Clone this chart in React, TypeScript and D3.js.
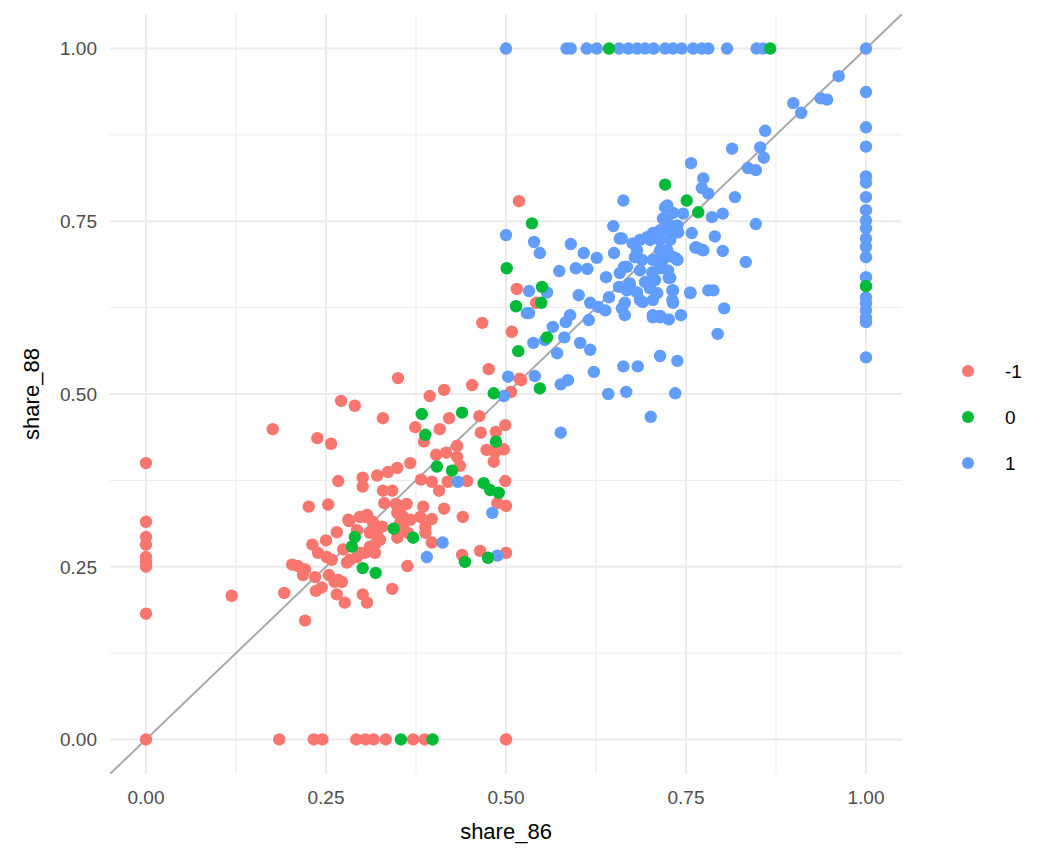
import React from "react";
import * as d3 from "d3";

type Pt = [number, number];

const groupLabels = ["-1", "0", "1"];
const groupColors = ["#F8766D", "#00BA38", "#619CFF"];

const redPts: Pt[] = [
  [0, 0.40], [0, 0.315], [0, 0.293], [0, 0.282], [0, 0.264], [0, 0.257], [0, 0.25], [0, 0.182], [0, 0],
  [0.185, 0], [0.233, 0], [0.245, 0], [0.292, 0], [0.305, 0], [0.316, 0], [0.333, 0], [0.371, 0], [0.387, 0], [0.5, 0],
  [0.271, 0.49], [0.29, 0.483], [0.176, 0.449], [0.238, 0.436], [0.257, 0.428], [0.267, 0.374], [0.301, 0.379], [0.301, 0.366],
  [0.226, 0.337], [0.253, 0.34], [0.282, 0.316], [0.304, 0.322], [0.265, 0.30], [0.231, 0.282], [0.25, 0.288], [0.239, 0.27],
  [0.251, 0.264], [0.258, 0.26], [0.274, 0.275], [0.283, 0.26], [0.279, 0.256], [0.203, 0.253], [0.211, 0.251], [0.221, 0.246],
  [0.218, 0.238], [0.235, 0.235], [0.254, 0.238], [0.262, 0.228], [0.272, 0.228], [0.119, 0.208], [0.192, 0.212], [0.236, 0.215],
  [0.265, 0.21], [0.276, 0.198], [0.301, 0.21], [0.307, 0.198], [0.221, 0.172],
  [0.467, 0.603], [0.508, 0.59], [0.35, 0.523], [0.476, 0.536], [0.519, 0.522], [0.453, 0.513], [0.507, 0.503], [0.414, 0.506],
  [0.394, 0.497], [0.329, 0.465], [0.421, 0.465], [0.463, 0.468], [0.374, 0.452], [0.408, 0.449], [0.465, 0.444], [0.486, 0.445],
  [0.499, 0.455], [0.386, 0.431], [0.432, 0.425], [0.473, 0.419], [0.485, 0.416], [0.497, 0.42], [0.403, 0.412], [0.417, 0.415],
  [0.432, 0.409], [0.436, 0.396], [0.483, 0.402], [0.367, 0.40], [0.349, 0.393], [0.336, 0.387], [0.321, 0.382], [0.382, 0.376],
  [0.397, 0.373], [0.419, 0.373], [0.446, 0.374], [0.499, 0.374], [0.407, 0.36], [0.329, 0.36], [0.342, 0.36], [0.331, 0.342],
  [0.347, 0.341], [0.362, 0.341], [0.385, 0.337], [0.414, 0.334], [0.488, 0.342], [0.5, 0.338], [0.349, 0.328], [0.357, 0.322],
  [0.381, 0.322], [0.397, 0.319], [0.44, 0.322], [0.353, 0.314], [0.388, 0.308], [0.315, 0.315], [0.328, 0.308], [0.357, 0.303],
  [0.318, 0.299], [0.325, 0.289], [0.349, 0.292], [0.388, 0.299], [0.311, 0.279], [0.318, 0.27], [0.304, 0.27], [0.293, 0.264],
  [0.397, 0.285], [0.439, 0.267], [0.464, 0.273], [0.5, 0.27], [0.363, 0.251], [0.342, 0.218],
  [0.518, 0.779], [0.515, 0.652], [0.542, 0.632], [0.521, 0.52],
  [0.281, 0.318], [0.297, 0.322], [0.307, 0.325], [0.293, 0.303], [0.311, 0.299], [0.322, 0.293], [0.318, 0.282], [0.297, 0.27],
  [0.364, 0.299], [0.357, 0.306], [0.353, 0.328], [0.367, 0.318], [0.267, 0.231], [0.244, 0.22],
];

const greenPts: Pt[] = [
  [0.354, 0], [0.398, 0], [0.643, 1], [0.867, 1], [1, 0.656],
  [0.29, 0.293], [0.286, 0.279], [0.301, 0.248], [0.319, 0.241], [0.514, 0.627], [0.536, 0.747], [0.501, 0.682], [0.517, 0.562],
  [0.383, 0.471], [0.439, 0.473], [0.388, 0.441], [0.486, 0.431], [0.404, 0.395], [0.425, 0.389], [0.469, 0.371], [0.478, 0.361],
  [0.49, 0.357], [0.344, 0.305], [0.371, 0.292], [0.443, 0.257], [0.475, 0.263], [0.55, 0.655], [0.549, 0.632], [0.557, 0.582],
  [0.547, 0.508], [0.483, 0.501], [0.721, 0.803], [0.751, 0.78], [0.767, 0.763],
];

const bluePts: Pt[] = [
  [0.5, 1], [0.584, 1], [0.59, 1], [0.612, 1], [0.626, 1], [0.657, 1], [0.67, 1], [0.682, 1], [0.693, 1], [0.705, 1], [0.721, 1],
  [0.732, 1], [0.744, 1], [0.76, 1], [0.772, 1], [0.781, 1], [0.807, 1], [0.848, 1], [0.857, 1], [1, 1],
  [1, 0.937], [1, 0.886], [1, 0.858], [1, 0.815], [1, 0.806], [1, 0.785], [1, 0.766], [1, 0.751], [1, 0.74], [1, 0.725], [1, 0.713],
  [1, 0.698], [1, 0.669], [1, 0.64], [1, 0.631], [1, 0.621], [1, 0.61], [1, 0.604], [1, 0.553],
  [0.433, 0.373], [0.481, 0.328], [0.412, 0.285], [0.39, 0.264], [0.488, 0.266], [0.503, 0.525], [0.497, 0.497], [0.529, 0.617],
  [0.663, 0.78], [0.5, 0.73], [0.539, 0.72], [0.547, 0.704], [0.59, 0.717], [0.649, 0.743], [0.661, 0.725], [0.574, 0.678],
  [0.597, 0.682], [0.608, 0.704], [0.613, 0.681], [0.626, 0.697], [0.639, 0.669], [0.65, 0.704], [0.664, 0.684], [0.532, 0.649],
  [0.557, 0.647], [0.532, 0.617], [0.601, 0.643], [0.617, 0.632], [0.628, 0.626], [0.638, 0.621], [0.643, 0.64], [0.657, 0.655],
  [0.672, 0.655], [0.661, 0.624], [0.665, 0.614], [0.704, 0.614], [0.714, 0.613], [0.726, 0.608], [0.743, 0.614], [0.732, 0.65],
  [0.732, 0.632], [0.69, 0.633], [0.589, 0.614], [0.583, 0.604], [0.565, 0.597], [0.581, 0.582], [0.615, 0.607], [0.538, 0.574],
  [0.554, 0.578], [0.571, 0.559], [0.603, 0.574], [0.617, 0.564], [0.622, 0.532], [0.663, 0.54], [0.683, 0.54], [0.714, 0.555],
  [0.738, 0.548], [0.54, 0.526], [0.576, 0.514], [0.586, 0.52], [0.642, 0.5], [0.667, 0.503], [0.735, 0.501], [0.701, 0.467],
  [0.576, 0.444],
  [0.962, 0.96], [0.899, 0.921], [0.91, 0.907], [0.937, 0.928], [0.946, 0.926], [0.86, 0.881], [0.853, 0.857], [0.858, 0.842],
  [0.814, 0.855], [0.757, 0.834], [0.836, 0.827], [0.847, 0.824], [0.774, 0.812], [0.772, 0.798], [0.781, 0.79], [0.818, 0.785],
  [0.721, 0.77], [0.746, 0.761], [0.786, 0.756], [0.801, 0.761], [0.847, 0.746], [0.758, 0.733], [0.79, 0.728], [0.763, 0.712],
  [0.772, 0.709], [0.801, 0.707], [0.833, 0.691], [0.735, 0.697], [0.726, 0.668], [0.756, 0.646], [0.788, 0.65], [0.803, 0.624],
  [0.794, 0.587],
  [0.724, 0.773], [0.732, 0.762], [0.718, 0.754], [0.725, 0.747], [0.738, 0.744], [0.714, 0.737], [0.728, 0.733], [0.739, 0.734],
  [0.704, 0.733], [0.696, 0.727], [0.686, 0.723], [0.676, 0.718], [0.7, 0.723], [0.714, 0.723], [0.728, 0.723], [0.682, 0.708],
  [0.714, 0.708], [0.724, 0.708], [0.679, 0.698], [0.689, 0.694], [0.704, 0.694], [0.718, 0.694], [0.732, 0.698], [0.738, 0.694],
  [0.668, 0.684], [0.686, 0.679], [0.703, 0.676], [0.714, 0.682], [0.725, 0.679], [0.658, 0.675], [0.672, 0.66], [0.693, 0.662],
  [0.707, 0.665], [0.728, 0.668], [0.668, 0.65], [0.682, 0.647], [0.7, 0.653], [0.71, 0.646], [0.731, 0.65], [0.686, 0.636],
  [0.704, 0.636], [0.731, 0.636], [0.756, 0.647], [0.765, 0.712], [0.774, 0.708], [0.781, 0.65], [0.658, 0.725], [0.665, 0.632],
  [0.704, 0.611], [0.714, 0.611],
];

const xTicks = [0, 0.25, 0.5, 0.75, 1];
const yTicks = [0, 0.25, 0.5, 0.75, 1];
const minorTicks = [-0.125, 0.125, 0.375, 0.625, 0.875, 1.125];

export default function App() {
  const W = 1056, H = 864;
  const L = 110, R = 902, T = 14, B = 774;
  const x = d3.scaleLinear().domain([-0.05, 1.05]).range([L, R]);
  const y = d3.scaleLinear().domain([-0.05, 1.05]).range([B, T]);
  const fmt = d3.format(".2f");
  const layers: { pts: Pt[]; color: string }[] = [
    { pts: redPts, color: groupColors[0] },
    { pts: bluePts, color: groupColors[2] },
    { pts: greenPts, color: groupColors[1] },
  ];
  const font = "'Liberation Sans', Arial, Helvetica, sans-serif";
  return (
    <svg width={W} height={H} style={{ position: "absolute", left: 0, top: 0, background: "#fff" }} fontFamily={font}>
      <defs>
        <clipPath id="panel">
          <rect x={L} y={T} width={R - L} height={B - T} />
        </clipPath>
      </defs>
      {minorTicks.filter(t => t > -0.05 && t < 1.05).map(t => (
        <g key={"mn" + t}>
          <line x1={x(t)} x2={x(t)} y1={T} y2={B} stroke="#EBEBEB" strokeWidth={1} />
          <line x1={L} x2={R} y1={y(t)} y2={y(t)} stroke="#EBEBEB" strokeWidth={1} />
        </g>
      ))}
      {xTicks.map(t => (
        <line key={"gx" + t} x1={x(t)} x2={x(t)} y1={T} y2={B} stroke="#EBEBEB" strokeWidth={2} />
      ))}
      {yTicks.map(t => (
        <line key={"gy" + t} x1={L} x2={R} y1={y(t)} y2={y(t)} stroke="#EBEBEB" strokeWidth={2} />
      ))}
      <g clipPath="url(#panel)">
        <line x1={x(-0.05)} y1={y(-0.05)} x2={x(1.05)} y2={y(1.05)} stroke="#A9A9A9" strokeWidth={2} />
        {layers.map((ly, li) =>
          ly.pts.map((p, i) => (
            <circle key={li + "-" + i} cx={x(p[0])} cy={y(p[1])} r={6.2} fill={ly.color} />
          ))
        )}
      </g>
      {xTicks.map(t => (
        <text key={"tx" + t} x={x(t)} y={804} textAnchor="middle" fontSize={19} fill="#4D4D4D">{fmt(t)}</text>
      ))}
      {yTicks.map(t => (
        <text key={"ty" + t} x={97} y={y(t)} dy="0.36em" textAnchor="end" fontSize={19} fill="#4D4D4D">{fmt(t)}</text>
      ))}
      <text x={(L + R) / 2} y={839} textAnchor="middle" fontSize={22} fill="#000">share_86</text>
      <text transform={`translate(39,${(T + B) / 2}) rotate(-90)`} textAnchor="middle" fontSize={22} fill="#000">share_88</text>
      {groupLabels.map((g, i) => (
        <g key={"lg" + g} transform={`translate(0,${371 + i * 46})`}>
          <circle cx={968} cy={0} r={6} fill={groupColors[i]} />
          <text x={1005} y={0} dy="0.36em" fontSize={19} fill="#000">{g}</text>
        </g>
      ))}
    </svg>
  );
}
